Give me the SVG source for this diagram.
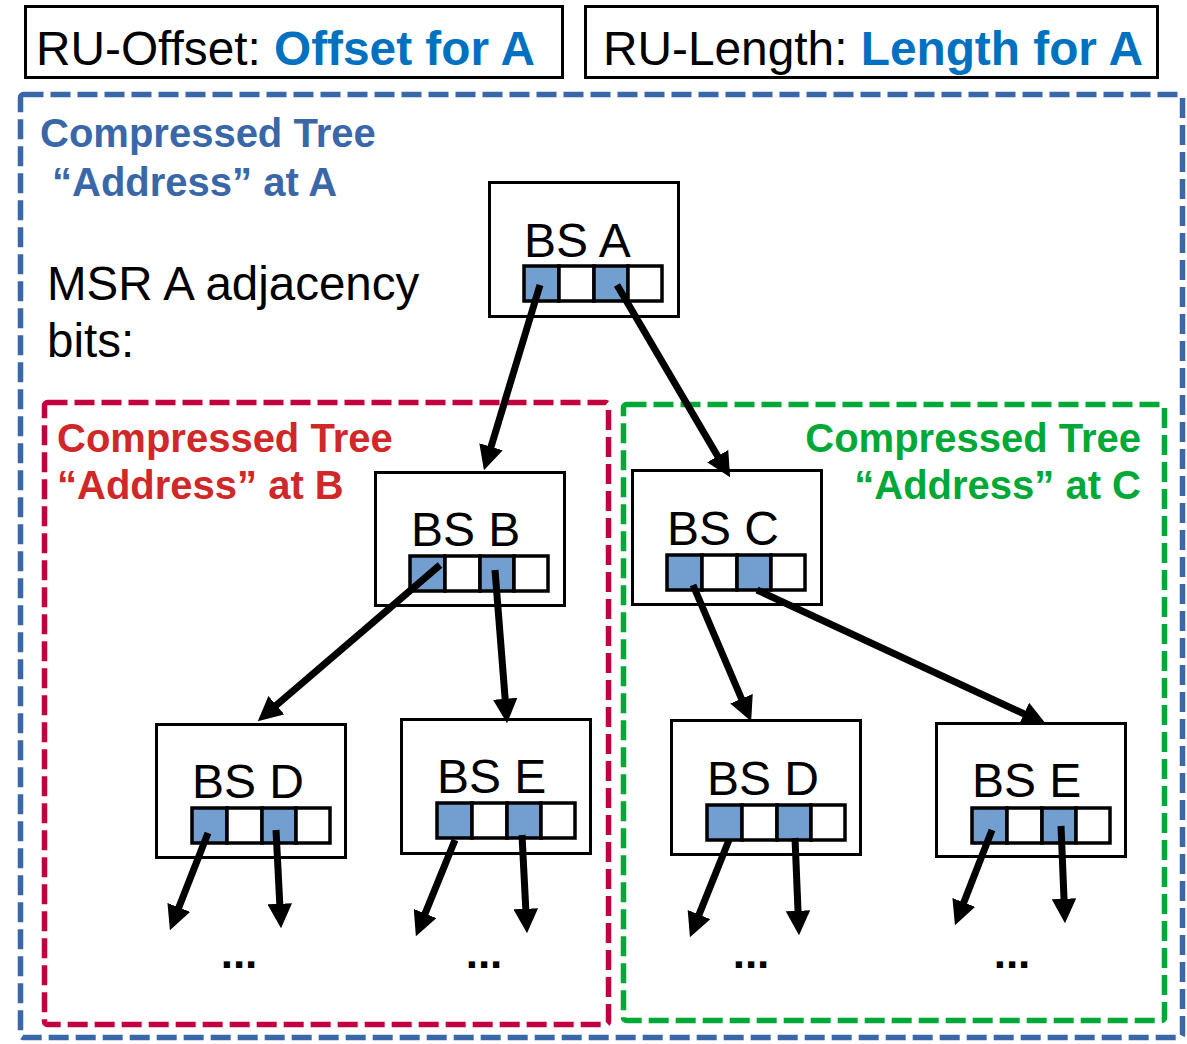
<svg xmlns="http://www.w3.org/2000/svg" width="1187" height="1044" viewBox="0 0 1187 1044">
<style>
  .t { font-family: "Liberation Sans", Arial, sans-serif; fill: #000; }
  .b { font-weight: bold; }
  .hl { fill: #0070C0; }
  .ta { fill: #3A67A8; }
  .tb { fill: #D02828; }
  .tc { fill: #00A838; }
  .hdr { fill: #fff; stroke: #000; stroke-width: 3; }
  .node { fill: #fff; stroke: #000; stroke-width: 3; }
  .on { fill: #729FCF; stroke: #000; stroke-width: 3.5; }
  .off { fill: #fff; stroke: #000; stroke-width: 3.5; }
  .zone { fill: none; stroke-width: 5.5; stroke-dasharray: 20 7; }
  .arr { fill: none; stroke: #000; stroke-width: 7; marker-end: url(#ah); }
</style>
<defs>
  <marker id="ah" viewBox="0 0 10 10" refX="5" refY="5" markerWidth="3.5" markerHeight="3.5" orient="auto">
    <path d="M0,0 L10,5 L0,10 z" fill="#000"/>
  </marker>
  <g id="bits">
    <rect class="on" x="0" y="0" width="35" height="35"/>
    <rect class="off" x="35" y="0" width="35" height="35"/>
    <rect class="on" x="70" y="0" width="34" height="35"/>
    <rect class="off" x="104" y="0" width="34" height="35"/>
  </g>
</defs>
<rect width="1187" height="1044" fill="#fff"/>

<g id="ru-offset">
  <rect class="hdr" x="25.5" y="6.5" width="537" height="71"/>
  <text class="t" x="36" y="65" font-size="48" textLength="499" lengthAdjust="spacingAndGlyphs">RU-Offset: <tspan class="b hl">Offset for A</tspan></text>
</g>
<g id="ru-length">
  <rect class="hdr" x="585.5" y="6.5" width="572" height="71"/>
  <text class="t" x="603" y="65" font-size="48" textLength="540" lengthAdjust="spacingAndGlyphs">RU-Length: <tspan class="b hl">Length for A</tspan></text>
</g>

<g id="zone-a">
  <rect class="zone" x="20.5" y="94.5" width="1162" height="943" rx="3" stroke="#3A67A8"/>
  <text class="t b ta" x="40" y="147" font-size="40">Compressed Tree</text>
  <text class="t b ta" x="52" y="196" font-size="40">“Address” at A</text>
  <text class="t" x="47" y="300" font-size="47.5">MSR A adjacency</text>
  <text class="t" x="47" y="357" font-size="47.5">bits:</text>
</g>
<g id="zone-b">
  <rect class="zone" x="44.5" y="402.5" width="564" height="622" rx="3" stroke="#C20040"/>
  <text class="t b tb" x="57" y="452" font-size="40">Compressed Tree</text>
  <text class="t b tb" x="57" y="499" font-size="40">“Address” at B</text>
</g>
<g id="zone-c">
  <rect class="zone" x="623.5" y="404.5" width="541" height="616" rx="3" stroke="#00A838"/>
  <text class="t b tc" x="1141" y="452" font-size="40" text-anchor="end">Compressed Tree</text>
  <text class="t b tc" x="1141" y="499" font-size="40" text-anchor="end">“Address” at C</text>
</g>

<g id="bs-a">
  <rect class="node" x="489.5" y="182.5" width="189" height="134"/>
  <text class="t" x="524" y="257" font-size="48">BS A</text>
  <use href="#bits" x="524" y="266"/>
</g>
<g id="bs-b">
  <rect class="node" x="375.5" y="472.5" width="189" height="133"/>
  <text class="t" x="411" y="546" font-size="48">BS B</text>
  <use href="#bits" x="410" y="556"/>
</g>
<g id="bs-c">
  <rect class="node" x="632.5" y="470.5" width="189" height="134"/>
  <text class="t" x="667" y="545" font-size="48">BS C</text>
  <use href="#bits" x="667" y="555"/>
</g>
<g id="bs-d-b">
  <rect class="node" x="156.5" y="724.5" width="189" height="133"/>
  <text class="t" x="192" y="798" font-size="48">BS D</text>
  <use href="#bits" x="192" y="808"/>
</g>
<g id="bs-e-b">
  <rect class="node" x="401.5" y="719.5" width="189" height="134"/>
  <text class="t" x="437" y="793" font-size="48">BS E</text>
  <use href="#bits" x="437" y="803"/>
</g>
<g id="bs-d-c">
  <rect class="node" x="671.5" y="720.5" width="189" height="134"/>
  <text class="t" x="707" y="795" font-size="48">BS D</text>
  <use href="#bits" x="707" y="805"/>
</g>
<g id="bs-e-c">
  <rect class="node" x="936.5" y="723.5" width="189" height="133"/>
  <text class="t" x="972" y="797" font-size="48">BS E</text>
  <use href="#bits" x="972" y="808"/>
</g>

<g id="more">
  <text class="t b" x="239" y="968" font-size="44" text-anchor="middle">...</text>
  <text class="t b" x="484" y="968" font-size="44" text-anchor="middle">...</text>
  <text class="t b" x="751" y="968" font-size="44" text-anchor="middle">...</text>
  <text class="t b" x="1012" y="968" font-size="44" text-anchor="middle">...</text>
</g>

<g id="connectors">
  <path class="arr" d="M540,285 L487.5,458.5"/>
  <path class="arr" d="M617,285 L723.9,466.7"/>
  <path class="arr" d="M440,565 L267.1,713.2"/>
  <path class="arr" d="M495,570 L506.1,711"/>
  <path class="arr" d="M693,585 L746.3,710"/>
  <path class="arr" d="M757,590 L1035.1,719"/>
  <path class="arr" d="M208,833 L174.4,918.8"/>
  <path class="arr" d="M276,830 L280.4,916"/>
  <path class="arr" d="M455,840 L420.5,924.9"/>
  <path class="arr" d="M522,835 L526.4,921"/>
  <path class="arr" d="M729,840 L694.5,925.9"/>
  <path class="arr" d="M795,838 L798.5,923"/>
  <path class="arr" d="M992,830 L959.4,913.8"/>
  <path class="arr" d="M1061,826 L1064.5,911"/>
</g>
</svg>
